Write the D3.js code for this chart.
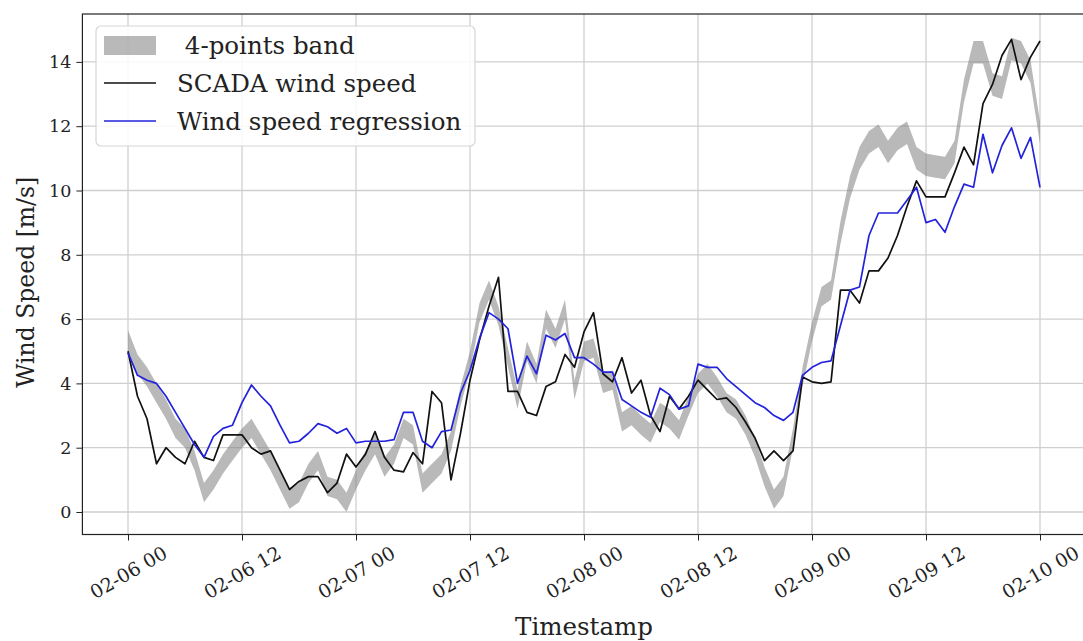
<!DOCTYPE html>
<html><head><meta charset="utf-8">
<script src="https://cdn.jsdelivr.net/npm/d3@7"></script>
<style>body{margin:0;background:#fff;} text{font-family:"DejaVu Serif",serif;fill:#222;}</style>
</head><body><svg id="c" width="1083" height="641"></svg>
<script>
// hourly timestamps from 02-06 00 (hour 0) to 02-10 00 (hour 96)
const hours = d3.range(0, 97);
const xTickHours = [0, 12, 24, 36, 48, 60, 72, 84, 96];
const xTickLabels = ["02-06 00","02-06 12","02-07 00","02-07 12","02-08 00","02-08 12","02-09 00","02-09 12","02-10 00"];
const yTicks = [0, 2, 4, 6, 8, 10, 12, 14];

const scada = [
 5.0,3.6,2.9,1.5,2.0,1.7,1.5,2.2,1.7,1.6,
 2.4,2.4,2.4,2.0,1.8,1.9,1.3,0.7,0.95,1.1,
 1.1,0.6,0.9,1.8,1.4,1.8,2.5,1.7,1.3,1.25,
 1.85,1.5,3.75,3.4,1.0,2.45,4.1,5.35,6.4,7.3,
 3.75,3.75,3.1,3.0,3.9,4.05,4.9,4.5,5.6,6.2,
 4.3,4.05,4.8,3.7,4.1,3.0,2.5,3.6,3.2,3.6,
 4.1,3.8,3.5,3.55,3.25,2.8,2.3,1.6,1.9,1.6,
 1.9,4.2,4.05,4.0,4.05,6.9,6.9,6.5,7.5,7.5,
 7.9,8.6,9.5,10.3,9.8,9.8,9.8,10.55,11.35,10.8,
 12.7,13.3,14.2,14.7,13.45,14.15,14.65
];
const regression = [
 4.95,4.25,4.1,4.0,3.6,3.1,2.6,2.1,1.7,2.35,
 2.6,2.7,3.4,3.95,3.6,3.3,2.7,2.15,2.2,2.45,
 2.75,2.65,2.45,2.6,2.15,2.2,2.2,2.2,2.25,3.1,
 3.1,2.2,2.0,2.5,2.55,3.7,4.4,5.4,6.2,6.0,
 5.7,4.0,4.85,4.3,5.5,5.35,5.55,4.8,4.8,4.6,
 4.35,4.35,3.5,3.3,3.1,2.95,3.85,3.65,3.2,3.3,
 4.6,4.5,4.5,4.15,3.9,3.65,3.4,3.25,3.0,2.85,
 3.1,4.25,4.5,4.65,4.7,5.8,6.9,7.0,8.6,9.3,
 9.3,9.3,9.7,10.1,9.0,9.1,8.7,9.5,10.2,10.1,
 11.75,10.55,11.4,11.95,11.0,11.65,10.1
];
const bandLow = [
 4.85,4.3,3.9,3.4,2.9,2.3,2.0,1.3,0.3,0.7,
 1.2,1.6,2.0,2.3,1.8,1.3,0.7,0.1,0.3,0.9,
 1.3,0.5,0.4,0.0,0.7,1.3,1.8,1.1,1.5,2.3,
 2.1,0.6,0.9,1.2,1.9,3.3,4.4,5.9,6.6,5.8,
 4.5,3.2,4.7,4.0,5.7,5.1,6.0,3.5,4.7,4.8,
 3.7,3.8,2.5,2.7,2.4,2.15,2.8,2.6,2.25,3.0,
 3.7,4.0,3.6,3.1,2.9,2.4,1.7,0.8,0.1,0.5,
 2.0,3.9,5.3,6.4,6.6,8.35,9.75,10.65,11.15,11.35,
 10.85,11.25,11.45,10.65,10.45,10.4,10.35,10.85,12.75,13.95,
 13.95,12.95,12.85,14.05,13.95,13.35,11.45
];
const bandHigh = [
 5.65,4.9,4.5,4.0,3.5,2.9,2.6,1.9,0.9,1.3,
 1.8,2.2,2.6,2.9,2.4,1.9,1.3,0.7,0.9,1.5,
 1.9,1.1,1.0,0.6,1.3,1.9,2.4,1.7,2.1,2.9,
 2.7,1.2,1.5,1.8,2.5,3.9,5.0,6.5,7.2,6.4,
 5.1,3.8,5.3,4.6,6.3,5.7,6.6,4.1,5.3,5.4,
 4.3,4.4,3.1,3.3,3.0,2.75,3.4,3.2,2.85,3.6,
 4.3,4.6,4.2,3.7,3.5,3.0,2.3,1.4,0.7,1.1,
 2.6,4.5,5.9,7.0,7.2,9.05,10.45,11.35,11.85,12.05,
 11.55,11.95,12.15,11.35,11.15,11.1,11.05,11.55,13.45,14.65,
 14.65,13.65,13.55,14.75,14.65,14.05,12.15
];
const legendLabels = [" 4-points band", "SCADA wind speed", "Wind speed regression"];

const svg = d3.select("#c");
const L = 82.4, R = 1085.6, T = 14, B = 534.5;
const x = d3.scaleLinear().domain([-4.8, 100.8]).range([L, R]);
const y = d3.scaleLinear().domain([-0.7, 15.49]).range([B, T]);

svg.append("defs").append("clipPath").attr("id","clip")
  .append("rect").attr("x",L).attr("y",T).attr("width",R-L).attr("height",B-T);

// grid
const g = svg.append("g");
g.selectAll(".gx").data(xTickHours).enter().append("line")
  .attr("x1",d=>x(d)).attr("x2",d=>x(d)).attr("y1",T).attr("y2",B)
  .attr("stroke","#cfcfcf").attr("stroke-width",1.3);
g.selectAll(".gy").data(yTicks).enter().append("line")
  .attr("x1",L).attr("x2",R).attr("y1",d=>y(d)).attr("y2",d=>y(d))
  .attr("stroke","#cfcfcf").attr("stroke-width",1.3);

const plot = svg.append("g").attr("clip-path","url(#clip)");
const area = d3.area().x((d,i)=>x(hours[i])).y0((d,i)=>y(bandLow[i])).y1((d,i)=>y(bandHigh[i]));
plot.append("path").datum(hours).attr("d",area).attr("fill","#808080").attr("fill-opacity",0.55);

const line = arr => d3.line().x((d,i)=>x(hours[i])).y(d=>y(d))(arr);
plot.append("path").attr("d",line(scada)).attr("fill","none").attr("stroke","#111").attr("stroke-width",1.7).attr("stroke-linejoin","round");
plot.append("path").attr("d",line(regression)).attr("fill","none").attr("stroke","#2323dc").attr("stroke-width",1.7).attr("stroke-linejoin","round");

// axes
const xAxis = svg.append("g").attr("transform",`translate(0,${B})`)
  .call(d3.axisBottom(x).tickValues(xTickHours).tickFormat((d,i)=>xTickLabels[i]).tickSize(6).tickPadding(6));
xAxis.select(".domain").remove();
xAxis.selectAll("line").attr("stroke","#222");
xAxis.selectAll("text").attr("font-size",19).attr("text-anchor","middle")
  .attr("x",0).attr("y",0).attr("dy","0.35em")
  .attr("transform","translate(0,38) rotate(-30)");

const yAxis = svg.append("g").attr("transform",`translate(${L},0)`)
  .call(d3.axisLeft(y).tickValues(yTicks).tickSize(6).tickPadding(5));
yAxis.select(".domain").remove();
yAxis.selectAll("line").attr("stroke","#222");
yAxis.selectAll("text").attr("font-size",17.5);

// frame
svg.append("rect").attr("x",L).attr("y",T).attr("width",R-L).attr("height",B-T)
  .attr("fill","none").attr("stroke","#222").attr("stroke-width",1.2);

// axis labels
svg.append("text").attr("x",(L+R)/2).attr("y",635).attr("text-anchor","middle").attr("font-size",24.5).text("Timestamp");
svg.append("text").attr("transform",`translate(34,${(T+B)/2 + 8}) rotate(-90)`).attr("text-anchor","middle").attr("font-size",23.5).text("Wind Speed [m/s]");

// legend
const lg = svg.append("g");
lg.append("rect").attr("x",96).attr("y",26).attr("width",379).attr("height",120).attr("rx",5)
  .attr("fill","#fff").attr("fill-opacity",0.85).attr("stroke","#d6d6d6").attr("stroke-width",1.2);
const rowY = [45, 83, 121];
lg.append("rect").attr("x",104).attr("y",rowY[0]-9).attr("width",52).attr("height",19).attr("fill","#808080").attr("fill-opacity",0.55);
lg.append("line").attr("x1",104).attr("x2",156).attr("y1",rowY[1]).attr("y2",rowY[1]).attr("stroke","#111").attr("stroke-width",1.7);
lg.append("line").attr("x1",104).attr("x2",156).attr("y1",rowY[2]).attr("y2",rowY[2]).attr("stroke","#2323dc").attr("stroke-width",1.7);
lg.selectAll(".lt").data(legendLabels).enter().append("text")
  .attr("x",177).attr("y",(d,i)=>rowY[i]).attr("dy","0.35em").attr("font-size",24.5)
  .attr("xml:space","preserve").style("white-space","pre").text(d=>d);
</script></body></html>
